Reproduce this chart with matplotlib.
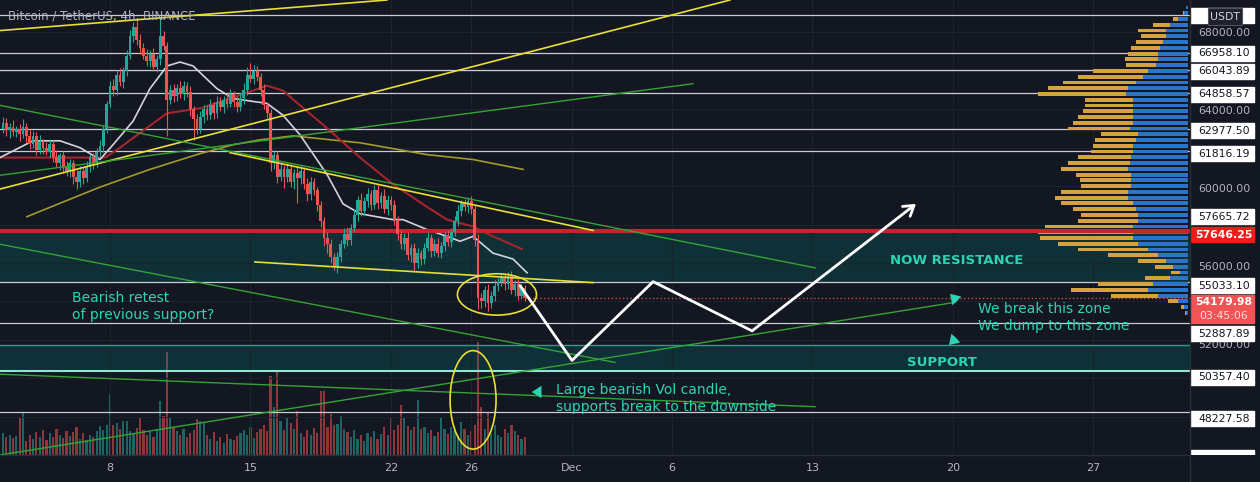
import numpy as np
import pandas as pd
import matplotlib
matplotlib.use("Agg")
import matplotlib.pyplot as plt
from matplotlib.patches import Ellipse, Rectangle
from matplotlib.lines import Line2D

# ---------------- data: BTCUSDT 4h (Binance) ----------------
# x positions are "day of November" (Dec 1 = 31)
first_open = 63000
closes = [
    63300, 62900, 63100, 62800, 63000,
    62700, 63100, 62600, 62200, 62600, 61900, 62300, 62000,
    61800, 62200, 61500, 61200,
    61600, 61000, 60800, 61200,
    60500, 60200, 60800, 60400,
    61000, 61500, 61200, 61800, 62100,
    63000, 64300, 65200, 65000,
    65800, 65400, 66000, 66800,
    67800, 68300, 67600, 67200,
    66800, 66500, 66900, 66200, 66600,
    67800, 67300, 64500,
    65000, 64700, 65100, 64800, 65200, 64900,
    64000, 63500, 63000, 63600,
    64000, 63700, 64200, 63800, 64400, 64100,
    64500, 64300, 64800, 64400, 64100, 64600, 65000,
    65800, 65600, 66000, 65700,
    65000, 64200, 63800,
    61200, 61600, 60500,
    60900, 60500, 60900, 60200, 60700, 60400,
    60800, 60100, 59600, 60200, 59800,
    59000, 58200, 57300, 57000,
    56300, 55800,
    56300, 57000, 57500, 57200, 57800,
    58500, 59300, 58700, 59200,
    59600, 59000, 59800,
    59100, 59500, 58800, 59300, 59000,
    58200, 57500, 57000, 57300,
    56400, 56800, 56000, 56500, 56200,
    56800, 57300, 56600, 57000, 56500,
    56900, 57400, 57100, 57600,
    58200, 58700, 59100,
    58900, 59200, 58800,
    57200,
    54200,
    54000, 54600, 53900, 54300, 54800,
    55000, 55200, 54900, 55300,
    54600, 54900, 54300, 54700, 54179.98,
]
upper_wick = [
    300, 250, 200, 350, 150, 250, 400, 200, 300, 250,
    200, 350, 150, 300, 250, 200, 400, 150, 250, 300,
    200, 150, 350, 250, 200, 300, 150, 250, 200, 300,
    200, 150, 300, 400, 250, 350, 200, 300, 350, 250,
    400, 300, 250, 350, 200, 300, 250, 950, 300, 200,
    250, 300, 200, 350, 250, 200, 300, 150, 250, 300,
    200, 250, 350, 200, 300, 250, 200, 300, 250, 150,
    300, 250, 350, 400, 600, 300, 250, 200, 300, 150,
    200, 300, 250, 350, 200, 300, 250, 200, 350, 250,
    200, 300, 250, 200, 150, 250, 200, 300, 250, 200,
    250, 200, 300, 350, 250, 300, 200, 350, 250, 300,
    200, 250, 300, 200, 350, 250, 200, 300, 250, 200,
    250, 300, 200, 250, 300, 200, 250, 300, 200, 250,
    300, 200, 250, 300, 200, 250, 300, 200, 250, 250,
    300, 200, 300, 250, 200, 300, 250, 300, 200, 250,
    200, 250, 300, 200, 250, 200, 150,
]
lower_wick = [
    250, 300, 400, 200, 250, 350, 200, 300, 250, 200,
    300, 250, 350, 200, 300, 250, 200, 350, 300, 250,
    300, 400, 350, 250, 300, 200, 250, 300, 200, 250,
    300, 250, 200, 300, 250, 200, 300, 250, 200, 300,
    250, 300, 200, 250, 300, 200, 250, 300, 200, 1900,
    200, 300, 250, 200, 300, 250, 350, 1100, 300, 250,
    300, 250, 200, 300, 250, 200, 300, 250, 200, 300,
    250, 200, 300, 250, 200, 300, 250, 300, 200, 250,
    400, 300, 350, 250, 600, 300, 250, 350, 1300, 300,
    250, 400, 300, 250, 300, 350, 400, 500, 300, 150,
    300, 250, 200, 300, 250, 200, 300, 250, 200, 300,
    250, 200, 300, 250, 200, 300, 250, 200, 300, 250,
    300, 250, 350, 400, 250, 300, 250, 200, 300, 250,
    200, 250, 300, 200, 250, 200, 300, 250, 200, 300,
    250, 300, 600, 350, 300, 400, 250, 300, 250, 200,
    300, 250, 200, 300, 250, 200, 150,
]
volume = [  # thousand BTC
    2.2, 1.8, 2.0, 1.7, 1.9, 3.8, 4.3, 1.4, 2.0, 1.6,
    2.3, 1.8, 2.5, 1.5, 2.2, 1.8, 2.6, 2.0, 1.7, 2.4,
    1.9, 2.3, 2.8, 1.6, 2.2, 1.5, 2.0, 1.8, 2.4, 2.9,
    2.5, 3.0, 6.1, 3.0, 3.2, 2.6, 3.4, 3.4, 2.4, 2.2,
    2.7, 3.8, 2.5, 2.0, 2.3, 1.8, 2.6, 5.4, 3.9, 10.3,
    3.7, 2.8, 2.4, 2.0, 2.6, 1.8, 2.2, 2.5, 3.6, 3.4,
    3.2, 2.0, 1.6, 2.3, 1.4, 1.8, 1.2, 2.1, 1.6, 1.5,
    1.9, 2.2, 2.5, 2.0, 2.8, 1.7, 2.3, 2.6, 3.0, 2.4,
    7.9, 4.8, 8.3, 3.4, 2.5, 3.7, 3.2, 2.6, 4.4, 2.2,
    1.8, 2.5, 2.0, 2.7, 2.2, 6.4, 6.4, 2.8, 4.1, 3.0,
    3.1, 3.9, 2.6, 2.3, 1.8, 2.5, 1.6, 2.0, 1.4, 2.2,
    1.8, 2.4, 1.6, 2.1, 2.8, 2.0, 3.7, 2.5, 3.0, 5.0,
    3.7, 2.9, 2.5, 2.8, 5.5, 2.6, 2.8, 2.2, 2.5, 1.9,
    2.3, 3.7, 2.6, 2.1, 2.8, 2.4, 2.0, 3.3, 2.6, 2.0,
    2.4, 3.0, 11.3, 4.8, 2.6, 4.3, 2.2, 3.0, 2.0, 1.8,
    2.6, 2.2, 3.0, 2.4, 2.0, 1.6, 1.8,
]

# moving averages (day, price) read at points along each curve
ma_white_d = [2.52, 4.16, 5.51, 6.51, 7.50, 8.15, 9.15, 9.99, 10.84, 11.49, 12.14, 13.33, 14.13, 15.13,
              15.82, 16.62, 17.47, 18.81, 19.61, 20.46, 22.10, 22.60, 23.79, 24.79, 25.44, 26.09, 27.08,
              28.08, 28.78]
ma_white_p = [61487, 62359, 62359, 62000, 61385, 62154, 63385, 65077, 66256, 66462, 66256, 65077, 64564,
              64410, 64308, 63692, 62667, 60616, 59077, 58564, 58256, 58256, 57744, 57385, 57128, 57385,
              56513, 56205, 55487]
ma_red_d = [2.52, 7.75, 8.50, 9.49, 10.84, 12.48, 14.98, 15.82, 16.62, 17.47, 18.81, 20.46, 22.10, 23.79,
            24.79, 26.09, 27.08, 28.53]
ma_red_p = [61487, 61487, 62000, 62769, 63795, 64051, 64923, 65231, 64974, 64205, 63026, 61487, 60103,
            58923, 58256, 57897, 57385, 56718]
ma_olive_d = [3.86, 7.50, 9.99, 12.48, 14.13, 15.47, 17.12, 20.46, 23.79, 26.09, 28.58]
ma_olive_p = [58410, 59949, 60872, 61692, 62154, 62410, 62615, 62256, 61641, 61385, 60872]

# hand-drawn trend lines: (day0, price0, day1, price1)
yellow_lines = [
    (2.52, 68100, 21.80, 69692),
    (2.52, 59847, 38.89, 69692),
    (13.98, 61744, 32.07, 57693),
    (15.22, 56052, 32.07, 54975),
]
green_lines = [
    (2.52, 60564, 37.05, 65333),
    (2.52, 64205, 43.13, 55744),
    (2.52, 56975, 33.16, 50821),
    (2.52, 50206, 43.13, 48514),
    (2.52, 46001, 50.10, 53949),
]

# horizontal levels
levels = [68900.02, 66958.10, 66043.89, 64858.57, 62977.50, 61816.19, 57665.72, 55033.10, 52887.89, 48227.58]
red_level = 57646.25
support_top = 51744
support_level = 50357.40
last_price = 54179.98
countdown = "03:45:06"

# projected path (white zig-zag)
proj_d = [28.43, 31.02, 35.06, 39.99, 48.16]
proj_p = [54821, 50924, 55026, 52462, 59077]

# visible-range volume profile (price rows, total and up volume)
vp_price = np.arange(69300, 53399, -300)
vp_total = [2, 5, 15, 35, 50, 47, 52, 57, 60, 63, 62, 95, 110, 125, 140, 150, 103, 103, 105, 110, 115, 120,
            87, 93, 95, 97, 110, 120, 127, 112, 108, 107, 127, 133, 127, 115, 107, 110, 143, 150, 148, 130,
            110, 80, 50, 33, 17, 43, 90, 117, 77, 20, 7, 3]
vp_up = [2, 4, 10, 18, 22, 22, 25, 28, 30, 30, 32, 40, 45, 52, 60, 62, 55, 55, 55, 55, 55, 58, 50, 52, 55,
         55, 57, 58, 60, 57, 57, 57, 60, 60, 55, 52, 50, 50, 55, 55, 55, 50, 40, 30, 22, 15, 8, 18, 35, 40,
         30, 10, 4, 2]

tick_days = [8, 15, 22, 26, 31, 36, 43, 50, 57]
tick_labels = ['8', '15', '22', '26', 'Dec', '6', '13', '20', '27']

# ---------------- style ----------------
BG = '#131722'
UP, DOWN = '#26a69a', '#ef5350'
TXT = '#2dd4b4'
YEL = '#e9df35'
GRN = '#33a336'
AXTXT = '#b2b5be'

X0, X1 = 2.52, 61.81
Y0, Y1 = 46359, 69692
W_AX, H_AX = 1190, 455
ppp = (Y1 - Y0) / H_AX    # price per pixel
dpp = (X1 - X0) / W_AX    # days per pixel

fig = plt.figure(figsize=(12.6, 4.82), dpi=100, facecolor=BG)
rect = [0, 27 / 482, W_AX / 1260, H_AX / 482]
axv = fig.add_axes(rect, label='vol')
ax = fig.add_axes(rect, label='main')
axp = fig.add_axes([W_AX / 1260, 27 / 482, 70 / 1260, H_AX / 482], label='price')

times = pd.date_range('2021-11-02 16:00', periods=len(closes), freq='4h')
x = 1 + (times - pd.Timestamp('2021-11-01')) / pd.Timedelta(days=1)
x = np.asarray(x, dtype=float)
c = np.array(closes, dtype=float)
o = np.concatenate([[first_open], c[:-1]])
hi = np.maximum(o, c) + np.array(upper_wick)
lo = np.minimum(o, c) - np.array(lower_wick)
cols = np.where(c >= o, UP, DOWN)

# volume (own axis, 1 unit = 10 px)
axv.bar(x, volume, width=0.11, color=cols, alpha=0.55, zorder=2)
axv.set_xlim(X0, X1)
axv.set_ylim(0, H_AX / 10)
axv.axis('off')

# main axis
ax.set_facecolor('none')
ax.set_xlim(X0, X1)
ax.set_ylim(Y0, Y1)
ax.set_yticks(np.arange(46000, 69001, 2000))
ax.set_xticks(tick_days, tick_labels)
ax.tick_params(axis='y', left=False, labelleft=False)
ax.tick_params(axis='x', length=0, colors=AXTXT, labelsize=8, pad=6)
ax.grid(True, color='#1e222d', lw=0.8, zorder=0)
for s in ax.spines.values():
    s.set_visible(False)

# zones
ax.axhspan(55033.10, red_level, color='#009688', alpha=0.2, lw=0, zorder=1)
ax.axhspan(support_level, support_top, color='#009688', alpha=0.2, lw=0, zorder=1)

for lv in levels:
    ax.axhline(lv, color='#c9ccd4', lw=0.9, zorder=2)
ax.axhline(support_top, color='#2a9d8f', lw=1.0, zorder=2)
ax.axhline(support_level, color='#8de6d6', lw=1.5, zorder=2)

# volume profile
xr = X1 - 2 * dpp
tot = np.array(vp_total) * dpp
upv = np.array(vp_up) * dpp
ax.barh(vp_price, tot, left=xr - tot, height=200, color='#d6a23d', zorder=2.5)
ax.barh(vp_price, upv, left=xr - upv, height=200, color='#2b74c8', zorder=2.6)

ax.axhline(red_level, color='#c4262e', lw=3, zorder=4)

# moving averages
ax.plot(ma_olive_d, ma_olive_p, color='#a39a2c', lw=1.2, zorder=3)
ax.plot(ma_red_d, ma_red_p, color='#a3262d', lw=1.5, zorder=3)
ax.plot(ma_white_d, ma_white_p, color='#d1d4dc', lw=1.2, zorder=3)

# candles
ax.vlines(x, lo, hi, colors=cols, lw=0.8, zorder=5)
body = np.maximum(np.abs(c - o), 40)
ax.bar(x, body, bottom=np.minimum(o, c), width=0.14, color=cols, zorder=5)

# trend lines
for d0, p0, d1, p1 in yellow_lines:
    ax.plot([d0, d1], [p0, p1], color=YEL, lw=1.2, zorder=6)
for d0, p0, d1, p1 in green_lines:
    ax.plot([d0, d1], [p0, p1], color=GRN, lw=1.0, zorder=6)

# current price dotted line
ax.plot([x[-1], X1], [last_price, last_price], color=DOWN, lw=0.9, ls=(0, (1, 2)), zorder=6)

# ellipses
ax.add_patch(Ellipse((27.28, 54360), 3.94, 2154, fill=False, ec=YEL, lw=1.2, zorder=7))
ax.add_patch(Ellipse((26.09, 48872), 2.29, 5128, fill=False, ec=YEL, lw=1.2, zorder=7))

# projection
ax.plot(proj_d[:-1], proj_p[:-1], color='white', lw=2, zorder=7, solid_capstyle='round')
ax.annotate('', xy=(proj_d[-1], proj_p[-1]), xytext=(proj_d[-2], proj_p[-2]),
            arrowprops=dict(arrowstyle='->,head_length=0.7,head_width=0.45', color='white', lw=2,
                            shrinkA=0, shrinkB=0), zorder=7)


def at(xp, yp):
    return xp / W_AX, 1 - yp / H_AX


tk = dict(transform=ax.transAxes, color=TXT, va='center', zorder=8)
ax.text(*at(890, 260), 'NOW RESISTANCE', fontweight='bold', fontsize=9.5, **tk)
ax.text(*at(907, 363), 'SUPPORT', fontweight='bold', fontsize=9.5, **tk)
ax.text(*at(72, 306.5), 'Bearish retest\nof previous support?', linespacing=1.35, fontsize=10, **tk)
ax.text(*at(978, 317.5), 'We break this zone\nWe dump to this zone', linespacing=1.35, fontsize=10, **tk)
ax.text(*at(556, 398.5), 'Large bearish Vol candle,\nsupports break to the downside', linespacing=1.35,
        fontsize=10, **tk)

arr = dict(arrowstyle='simple,head_width=0.9,head_length=0.7,tail_width=0.4', color=TXT, lw=0)
for tail, head in [((959, 303), (948, 292)), ((958, 336), (947, 347)), ((544, 392), (529, 392))]:
    ax.annotate('', xy=at(*head), xytext=at(*tail), xycoords='axes fraction',
                textcoords='axes fraction', arrowprops=arr, zorder=8)

fig.text(8 / 1260, 1 - 16 / 482, 'Bitcoin / TetherUS, 4h, BINANCE', color=AXTXT, fontsize=8.5, va='center')

# ---------------- price scale ----------------
axp.set_xlim(0, 70)
axp.set_ylim(Y0, Y1)
axp.axis('off')

label_shift = {57665.72: -18, 52887.89: 6}
label_levels = levels + [support_level]
box_centres = [lv - label_shift.get(lv, 0) * ppp for lv in label_levels] + [red_level, last_price]
box_h = 15 * ppp

# round-number ticks, only where a level label does not cover them
for v in np.arange(46000, 69001, 2000):
    if min(abs(v - b) for b in box_centres) > 10 * ppp:
        axp.text(34, v, f'{v:.2f}', ha='center', va='center', color=AXTXT, fontsize=7.8, clip_on=True)

for lv in label_levels:
    yc = lv - label_shift.get(lv, 0) * ppp
    axp.add_patch(Rectangle((0, yc - box_h / 2), 64, box_h, color='white', zorder=3))
    if lv != levels[0]:   # top label sits under the currency badge
        axp.text(34, yc, f'{lv:.2f}', ha='center', va='center', color='#131722', fontsize=7.8, zorder=4)
# clipped label below the visible range
axp.add_patch(Rectangle((0, Y0 - 10 * ppp), 64, box_h, color='white', zorder=3))
axp.add_patch(Rectangle((0, red_level - box_h / 2), 64, box_h, color='#f41b1b', zorder=5))
axp.text(34, red_level, f'{red_level:.2f}', ha='center', va='center', color='white', fontsize=7.8,
         fontweight='bold', zorder=6)
axp.add_patch(Rectangle((0, last_price - 20.5 * ppp), 64, 28 * ppp, color='#f05454', zorder=5))
axp.text(34, last_price, f'{last_price:.2f}', ha='center', va='center', color='white', fontsize=7.8,
         fontweight='bold', zorder=6)
axp.text(34, last_price - 14 * ppp, countdown, ha='center', va='center', color='#ffe0e0', fontsize=7.8,
         zorder=6)
axp.add_patch(Rectangle((18, Y1 - 25 * ppp), 34, 17 * ppp, fc='#1e222d', ec='#50535e', lw=0.8, zorder=7))
axp.text(35, Y1 - 16.5 * ppp, 'USDT', ha='center', va='center', color='#d1d4dc', fontsize=7.8, zorder=8)

# separators
fig.add_artist(Line2D([W_AX / 1260] * 2, [0, 1], color='#2a2e39', lw=1))
fig.add_artist(Line2D([0, W_AX / 1260], [27 / 482] * 2, color='#2a2e39', lw=1))

fig.savefig('out.png', dpi=100, facecolor=BG)
